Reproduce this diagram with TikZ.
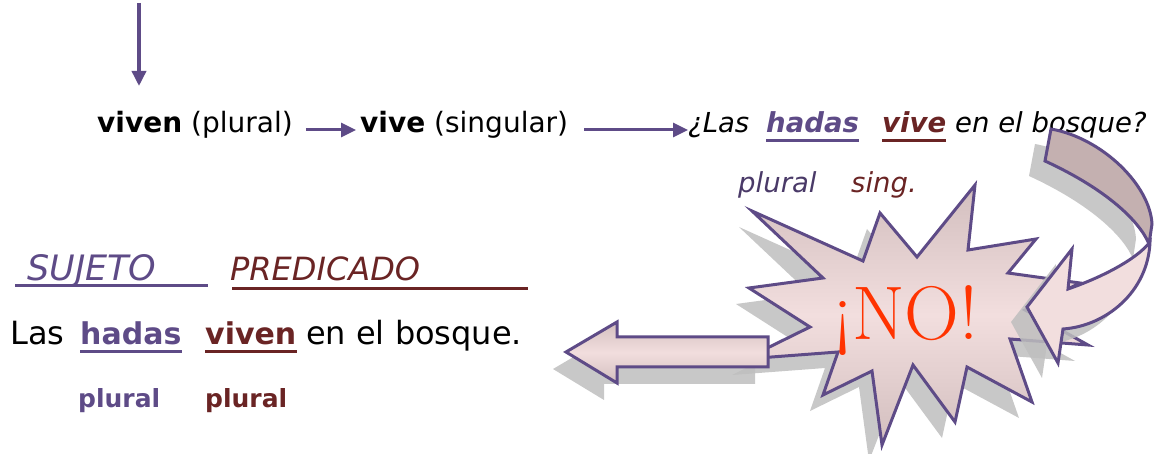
\documentclass[tikz,border=0pt]{standalone}
\usepackage{fontspec}
\setmainfont{DejaVu Sans}
\newfontfamily\nofont{Latin Modern Roman}
\usetikzlibrary{arrows.meta,calc}
\definecolor{pur}{HTML}{5E4B87}
\definecolor{dred}{HTML}{6A2424}
\definecolor{dpur}{HTML}{4A3A68}
\definecolor{shd}{HTML}{BEBEBE}
\definecolor{dk}{HTML}{7E6E70}
\definecolor{md}{HTML}{D6C2C2}
\definecolor{lt}{HTML}{F2DEDE}
\definecolor{nored}{HTML}{FF3300}
\definecolor{backband}{HTML}{C4B0B0}
\pgfdeclareverticalshading{burst}{100bp}{color(0bp)=(dk); color(28bp)=(md); color(50bp)=(lt); color(72bp)=(md); color(100bp)=(dk)}
\tikzset{
  txt/.style={inner sep=0pt, anchor=base west},
  fa/.style={font=\fontsize{28}{32}\selectfont},
  fb/.style={font=\fontsize{27.5}{32}\selectfont\itshape},
  fc/.style={font=\fontsize{32}{36}\selectfont\itshape},
  fd/.style={font=\fontsize{32}{36}\selectfont},
  fdb/.style={font=\fontsize{30}{36}\selectfont\bfseries},
  fe/.style={font=\fontsize{25}{30}\selectfont\bfseries},
  arr/.style={pur, line width=3.5pt, -{Triangle[length=15pt,width=14pt]}},
  shadowfill/.style={fill=shd, fill opacity=0.85},
  outline/.style={draw=pur, line width=3pt, line join=miter},
  starp/.style={insert path={(752,211) -- (863,261) -- (880,213) -- (917,257) -- (975,185) -- (968,250) -- (1036,239) -- (1008,273) -- (1080,283) -- (1025,310) -- (1088,345) -- (1010,339) -- (1032,402) -- (967,367) -- (955,422) -- (913,365) -- (882,445) -- (872,371) -- (823,395) -- (838,352) -- (745,359) -- (810,327) -- (749,288) -- (823,278) -- cycle}},
  leftp/.style={insert path={(566,352) -- (617,322) -- (617,337) -- (768,337) -- (768,367) -- (617,367) -- (617,383) -- cycle}},
  backp/.style={insert path={(1051,129) .. controls (1102,138) and (1150,185) .. (1152,224) -- (1149,244) .. controls (1140,222) and (1108,190) .. (1045,161) -- cycle}},
  frontp/.style={insert path={(1150,242) .. controls (1148,292) and (1106,326) .. (1063,329) -- (1058,363) -- (1027,307) -- (1072,249) -- (1068,289) .. controls (1100,278) and (1136,260) .. (1150,242) -- cycle}},
}
\begin{document}
\begin{tikzpicture}[x=1pt,y=-1pt]
\useasboundingbox (0,0) rectangle (1168,454);
% top line
\coordinate (vtop) at (139,3);
\coordinate (vtip) at (139,86);
\draw[arr] (vtop) -- (vtip);
\node[txt,fa] (vivenpl) at (97,133) {\textbf{viven} (plural)};
\node[txt,fa] (vivesg) at (360,133) {\textbf{vive} (singular)};
\node[txt,fb] (las1) at (688,133) {¿Las};
\node[txt,fb,pur] (hadas1) at (766,133) {\bfseries hadas};
\node[txt,fb,dred] (vive1) at (882,133) {\bfseries vive};
\node[txt,fb] (bosque1) at (955,133) {en el bosque?};
\draw[pur,line width=3pt] ($(hadas1.base west)+(0,8)$) -- ($(hadas1.base east)+(0,8)$);
\draw[dred,line width=3pt] ($(vive1.base west)+(0,8)$) -- ($(vive1.base east)+(0,8)$);
\draw[arr,line width=3pt] ($(vivenpl.base east)+(13,-3)$) -- ($(vivesg.base west)+(-4,-3)$);
\draw[arr,line width=3pt] ($(vivesg.base east)+(16,-3)$) -- ($(las1.base west)+(0,-3)$);
\node[txt,fb,dpur] (plur2) at (738,193) {plural};
\node[txt,fb,dred] (sing2) at (851,193) {sing.};
% subject / predicate
\node[txt,fc,pur,font=\fontsize{35}{36}\selectfont\itshape] (suj) at (27,281) {SUJETO};
\node[txt,fc,dred] (pred) at (230,281) {PREDICADO};
\draw[pur,line width=3pt] ($(suj.base west)+(-12,5)$) -- ++(193,0);
\draw[dred,line width=3pt] ($(pred.base west)+(2,8)$) -- ++(296,0);
\node[txt,fd] (las2) at (10,345) {Las};
\node[txt,fdb,pur] (hadas2) at (80,345) {hadas};
\node[txt,fdb,dred] (viven2) at (205,345) {viven};
\node[txt,fd] (bosque2) at (306,345) {en el bosque.};
\draw[pur,line width=3pt] ($(hadas2.base west)+(0,7)$) -- ($(hadas2.base east)+(0,7)$);
\draw[dred,line width=3pt] ($(viven2.base west)+(0,7)$) -- ($(viven2.base east)+(0,7)$);
\node[txt,fe,pur] (plur3) at (78,407) {plural};
\node[txt,fe,dred] (plur4) at (205,407) {plural};
% shapes
\path[shadowfill, shift={(-13,16)}, starp];
\path[starp, shading=burst, outline];
\path[shadowfill, shift={(-13,17)}, leftp];
\path[leftp, shading=burst, outline];
\path[shadowfill, shift={(-16,15)}, backp];
\path[shadowfill, shift={(-16,15)}, frontp];
\path[backp, fill=backband, outline];
\path[frontp, fill=lt, outline];
\node[font=\nofont\fontsize{76}{76}\selectfont, text=nored, inner sep=0pt] (no) at (906,321) {¡NO!};
\end{tikzpicture}
\end{document}
